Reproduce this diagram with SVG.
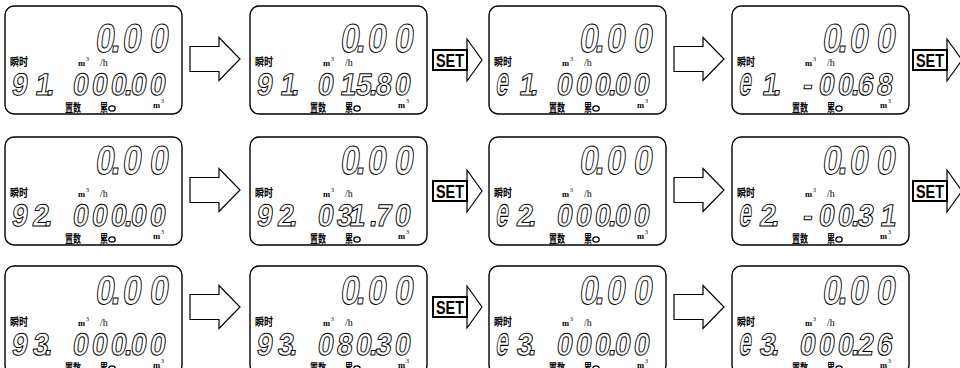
<svg xmlns="http://www.w3.org/2000/svg" width="960" height="368" viewBox="0 0 960 368">
<style>
  .frame{fill:#fff;stroke:#000;stroke-width:1.4}
  .seg{font-family:"Liberation Sans",Arial,sans-serif;font-weight:700;fill:#fff;stroke:#000;stroke-width:1}
  .big{font-size:40px}
  .mid{font-size:31px}
  .cjk{font-family:"Noto Sans CJK SC",sans-serif;font-weight:700;fill:#000}
  .unit{font-family:"Liberation Serif",serif;fill:#000}
  .arrow{fill:#fff;stroke:#000;stroke-width:1.2;stroke-linejoin:miter}
  .setbox{fill:#fff;stroke:#000;stroke-width:2}
  .settxt{font-family:"Liberation Sans",Arial,sans-serif;font-weight:700;font-size:16px;fill:#000}
</style>
<defs>
  <!-- fixed LCD legends shared by every screen -->
  <g id="lcd">
    <rect class="frame" x="0" y="0" width="177" height="108" rx="9"/>
    <text class="cjk" transform="translate(5,60) scale(1,1.2)" font-size="9">瞬时</text>
    <text class="unit" x="73" y="60" font-size="8.5" font-weight="700">m</text>
    <text class="unit" x="81" y="55" font-size="6">3</text>
    <text class="unit" x="95" y="60" font-size="10">/h</text>
    <text class="cjk" transform="translate(60,106) scale(1,1.35)" font-size="8">置数</text>
    <text class="cjk" transform="translate(95,106) scale(1,1.35)" font-size="8">累</text>
    <ellipse cx="107" cy="102.5" rx="3.2" ry="2.6" fill="none" stroke="#000" stroke-width="1.2"/>
    <text class="unit" x="148" y="102" font-size="8.5" font-weight="700">m</text>
    <text class="unit" x="156" y="97" font-size="6">3</text>
  </g>
  <!-- plain step arrow, origin at left end of shaft, centre line y=0 -->
  <polygon id="arr" class="arrow" points="0,-12.5 29,-12.5 29,-21.5 50,0 29,21.5 29,12.5 0,12.5"/>
  <!-- SET key arrow -->
  <g id="set">
    <polygon class="arrow" points="34,-21 49,0 34,21"/>
    <rect class="setbox" x="0" y="-10" width="34" height="20"/>
    <text class="settxt" transform="translate(17,6.5) scale(0.9,1.15)" text-anchor="middle">SET</text>
  </g>
</defs>

<!-- Row 1 -->
<g id="r1c1" transform="translate(5,6)">
  <use href="#lcd"/>
  <text class="seg big" transform="translate(0,46) skewX(-8) scale(0.85,1)" x="105.2 123.8 137 168.7" y="0">0.00</text>
  <text class="seg mid" transform="translate(0,89) skewX(-8) scale(0.92,1)" x="6.3 32.2 44.3" y="0">91.</text>
  <text class="seg mid" transform="translate(0,89) skewX(-8) scale(0.92,1)" x="72.6 93.3 113.9 129.1 135.7 156.3" y="0">000.00</text>
</g>
<g id="r1c2" transform="translate(250,6)">
  <use href="#lcd"/>
  <text class="seg big" transform="translate(0,46) skewX(-8) scale(0.85,1)" x="105.2 123.8 137 168.7" y="0">0.00</text>
  <text class="seg mid" transform="translate(0,89) skewX(-8) scale(0.92,1)" x="6.3 32.2 44.3" y="0">91.</text>
  <text class="seg mid" transform="translate(0,89) skewX(-8) scale(0.92,1)" x="72.6 97.4 113.9 129.1 135.7 156.3" y="0">015.80</text>
</g>
<g id="r1c3" transform="translate(489,6)">
  <use href="#lcd"/>
  <text class="seg big" transform="translate(0,46) skewX(-8) scale(0.85,1)" x="105.2 123.8 137 168.7" y="0">0.00</text>
  <text class="seg mid" transform="translate(6,89) skewX(-8) scale(0.72,1.3)" x="0" y="0">e</text>
  <text class="seg mid" transform="translate(0,89) skewX(-8) scale(0.92,1)" x="32.2 44.3" y="0">1.</text>
  <text class="seg mid" transform="translate(0,89) skewX(-8) scale(0.92,1)" x="72.6 93.3 113.9 129.1 135.7 156.3" y="0">000.00</text>
</g>
<g id="r1c4" transform="translate(732,6)">
  <use href="#lcd"/>
  <text class="seg big" transform="translate(0,46) skewX(-8) scale(0.85,1)" x="105.2 123.8 137 168.7" y="0">0.00</text>
  <text class="seg mid" transform="translate(6,89) skewX(-8) scale(0.72,1.3)" x="0" y="0">e</text>
  <text class="seg mid" transform="translate(0,89) skewX(-8) scale(0.92,1)" x="32.2 44.3" y="0">1.</text>
  <text class="seg mid" transform="translate(0,89) skewX(-8) scale(0.92,1)" x="76 93.3 113.9 129.1 135.7 156.3" y="0">-00.68</text>
</g>

<!-- Row 2 -->
<g id="r2c1" transform="translate(5,137)">
  <use href="#lcd"/>
  <text class="seg big" transform="translate(0,37) skewX(-8) scale(0.85,1)" x="105.2 123.8 137 168.7" y="0">0.00</text>
  <text class="seg mid" transform="translate(0,89) skewX(-8) scale(0.92,1)" x="6.3 29.1 42.2" y="0">92.</text>
  <text class="seg mid" transform="translate(0,89) skewX(-8) scale(0.92,1)" x="72.6 93.3 113.9 129.1 135.7 156.3" y="0">000.00</text>
</g>
<g id="r2c2" transform="translate(250,137)">
  <use href="#lcd"/>
  <text class="seg big" transform="translate(0,37) skewX(-8) scale(0.85,1)" x="105.2 123.8 137 168.7" y="0">0.00</text>
  <text class="seg mid" transform="translate(0,89) skewX(-8) scale(0.92,1)" x="6.3 29.1 42.2" y="0">92.</text>
  <text class="seg mid" transform="translate(0,89) skewX(-8) scale(0.92,1)" x="72.6 93.3 107.2 129.1 135.7 156.3" y="0">031.70</text>
</g>
<g id="r2c3" transform="translate(489,137)">
  <use href="#lcd"/>
  <text class="seg big" transform="translate(0,37) skewX(-8) scale(0.85,1)" x="105.2 123.8 137 168.7" y="0">0.00</text>
  <text class="seg mid" transform="translate(6,89) skewX(-8) scale(0.72,1.3)" x="0" y="0">e</text>
  <text class="seg mid" transform="translate(0,89) skewX(-8) scale(0.92,1)" x="29.1 42.2" y="0">2.</text>
  <text class="seg mid" transform="translate(0,89) skewX(-8) scale(0.92,1)" x="72.6 93.3 113.9 129.1 135.7 156.3" y="0">000.00</text>
</g>
<g id="r2c4" transform="translate(732,137)">
  <use href="#lcd"/>
  <text class="seg big" transform="translate(0,37) skewX(-8) scale(0.85,1)" x="105.2 123.8 137 168.7" y="0">0.00</text>
  <text class="seg mid" transform="translate(6,89) skewX(-8) scale(0.72,1.3)" x="0" y="0">e</text>
  <text class="seg mid" transform="translate(0,89) skewX(-8) scale(0.92,1)" x="29.1 42.2" y="0">2.</text>
  <text class="seg mid" transform="translate(0,89) skewX(-8) scale(0.92,1)" x="76 93.3 113.9 129.1 135.7 160.4" y="0">-00.31</text>
</g>

<!-- Row 3 -->
<g id="r3c1" transform="translate(5,266)">
  <use href="#lcd"/>
  <text class="seg big" transform="translate(0,38) skewX(-8) scale(0.85,1)" x="105.2 123.8 137 168.7" y="0">0.00</text>
  <text class="seg mid" transform="translate(0,89) skewX(-8) scale(0.92,1)" x="6.3 29.1 42.2" y="0">93.</text>
  <text class="seg mid" transform="translate(0,89) skewX(-8) scale(0.92,1)" x="72.6 93.3 113.9 129.1 135.7 156.3" y="0">000.00</text>
</g>
<g id="r3c2" transform="translate(250,266)">
  <use href="#lcd"/>
  <text class="seg big" transform="translate(0,38) skewX(-8) scale(0.85,1)" x="105.2 123.8 137 168.7" y="0">0.00</text>
  <text class="seg mid" transform="translate(0,89) skewX(-8) scale(0.92,1)" x="6.3 29.1 42.2" y="0">93.</text>
  <text class="seg mid" transform="translate(0,89) skewX(-8) scale(0.92,1)" x="72.6 93.3 113.9 129.1 135.7 156.3" y="0">080.30</text>
</g>
<g id="r3c3" transform="translate(489,266)">
  <use href="#lcd"/>
  <text class="seg big" transform="translate(0,38) skewX(-8) scale(0.85,1)" x="105.2 123.8 137 168.7" y="0">0.00</text>
  <text class="seg mid" transform="translate(6,89) skewX(-8) scale(0.72,1.3)" x="0" y="0">e</text>
  <text class="seg mid" transform="translate(0,89) skewX(-8) scale(0.92,1)" x="29.1 42.2" y="0">3.</text>
  <text class="seg mid" transform="translate(0,89) skewX(-8) scale(0.92,1)" x="72.6 93.3 113.9 129.1 135.7 156.3" y="0">000.00</text>
</g>
<g id="r3c4" transform="translate(732,266)">
  <use href="#lcd"/>
  <text class="seg big" transform="translate(0,38) skewX(-8) scale(0.85,1)" x="105.2 123.8 137 168.7" y="0">0.00</text>
  <text class="seg mid" transform="translate(6,89) skewX(-8) scale(0.72,1.3)" x="0" y="0">e</text>
  <text class="seg mid" transform="translate(0,89) skewX(-8) scale(0.92,1)" x="29.1 42.2" y="0">3.</text>
  <text class="seg mid" transform="translate(0,89) skewX(-8) scale(0.92,1)" x="72.6 93.3 113.9 129.1 135.7 156.3" y="0">000.26</text>
</g>

<!-- Connectors -->
<g id="connectors">
  <use href="#arr" x="190" y="59"/>
  <use href="#set" x="433" y="60"/>
  <use href="#arr" x="674" y="59"/>
  <use href="#set" x="913" y="60"/>
  <use href="#arr" x="190" y="190"/>
  <use href="#set" x="433" y="191"/>
  <use href="#arr" x="674" y="190"/>
  <use href="#set" x="913" y="191"/>
  <use href="#arr" x="190" y="307"/>
  <use href="#set" x="433" y="307"/>
  <use href="#arr" x="674" y="307"/>
</g>
</svg>
